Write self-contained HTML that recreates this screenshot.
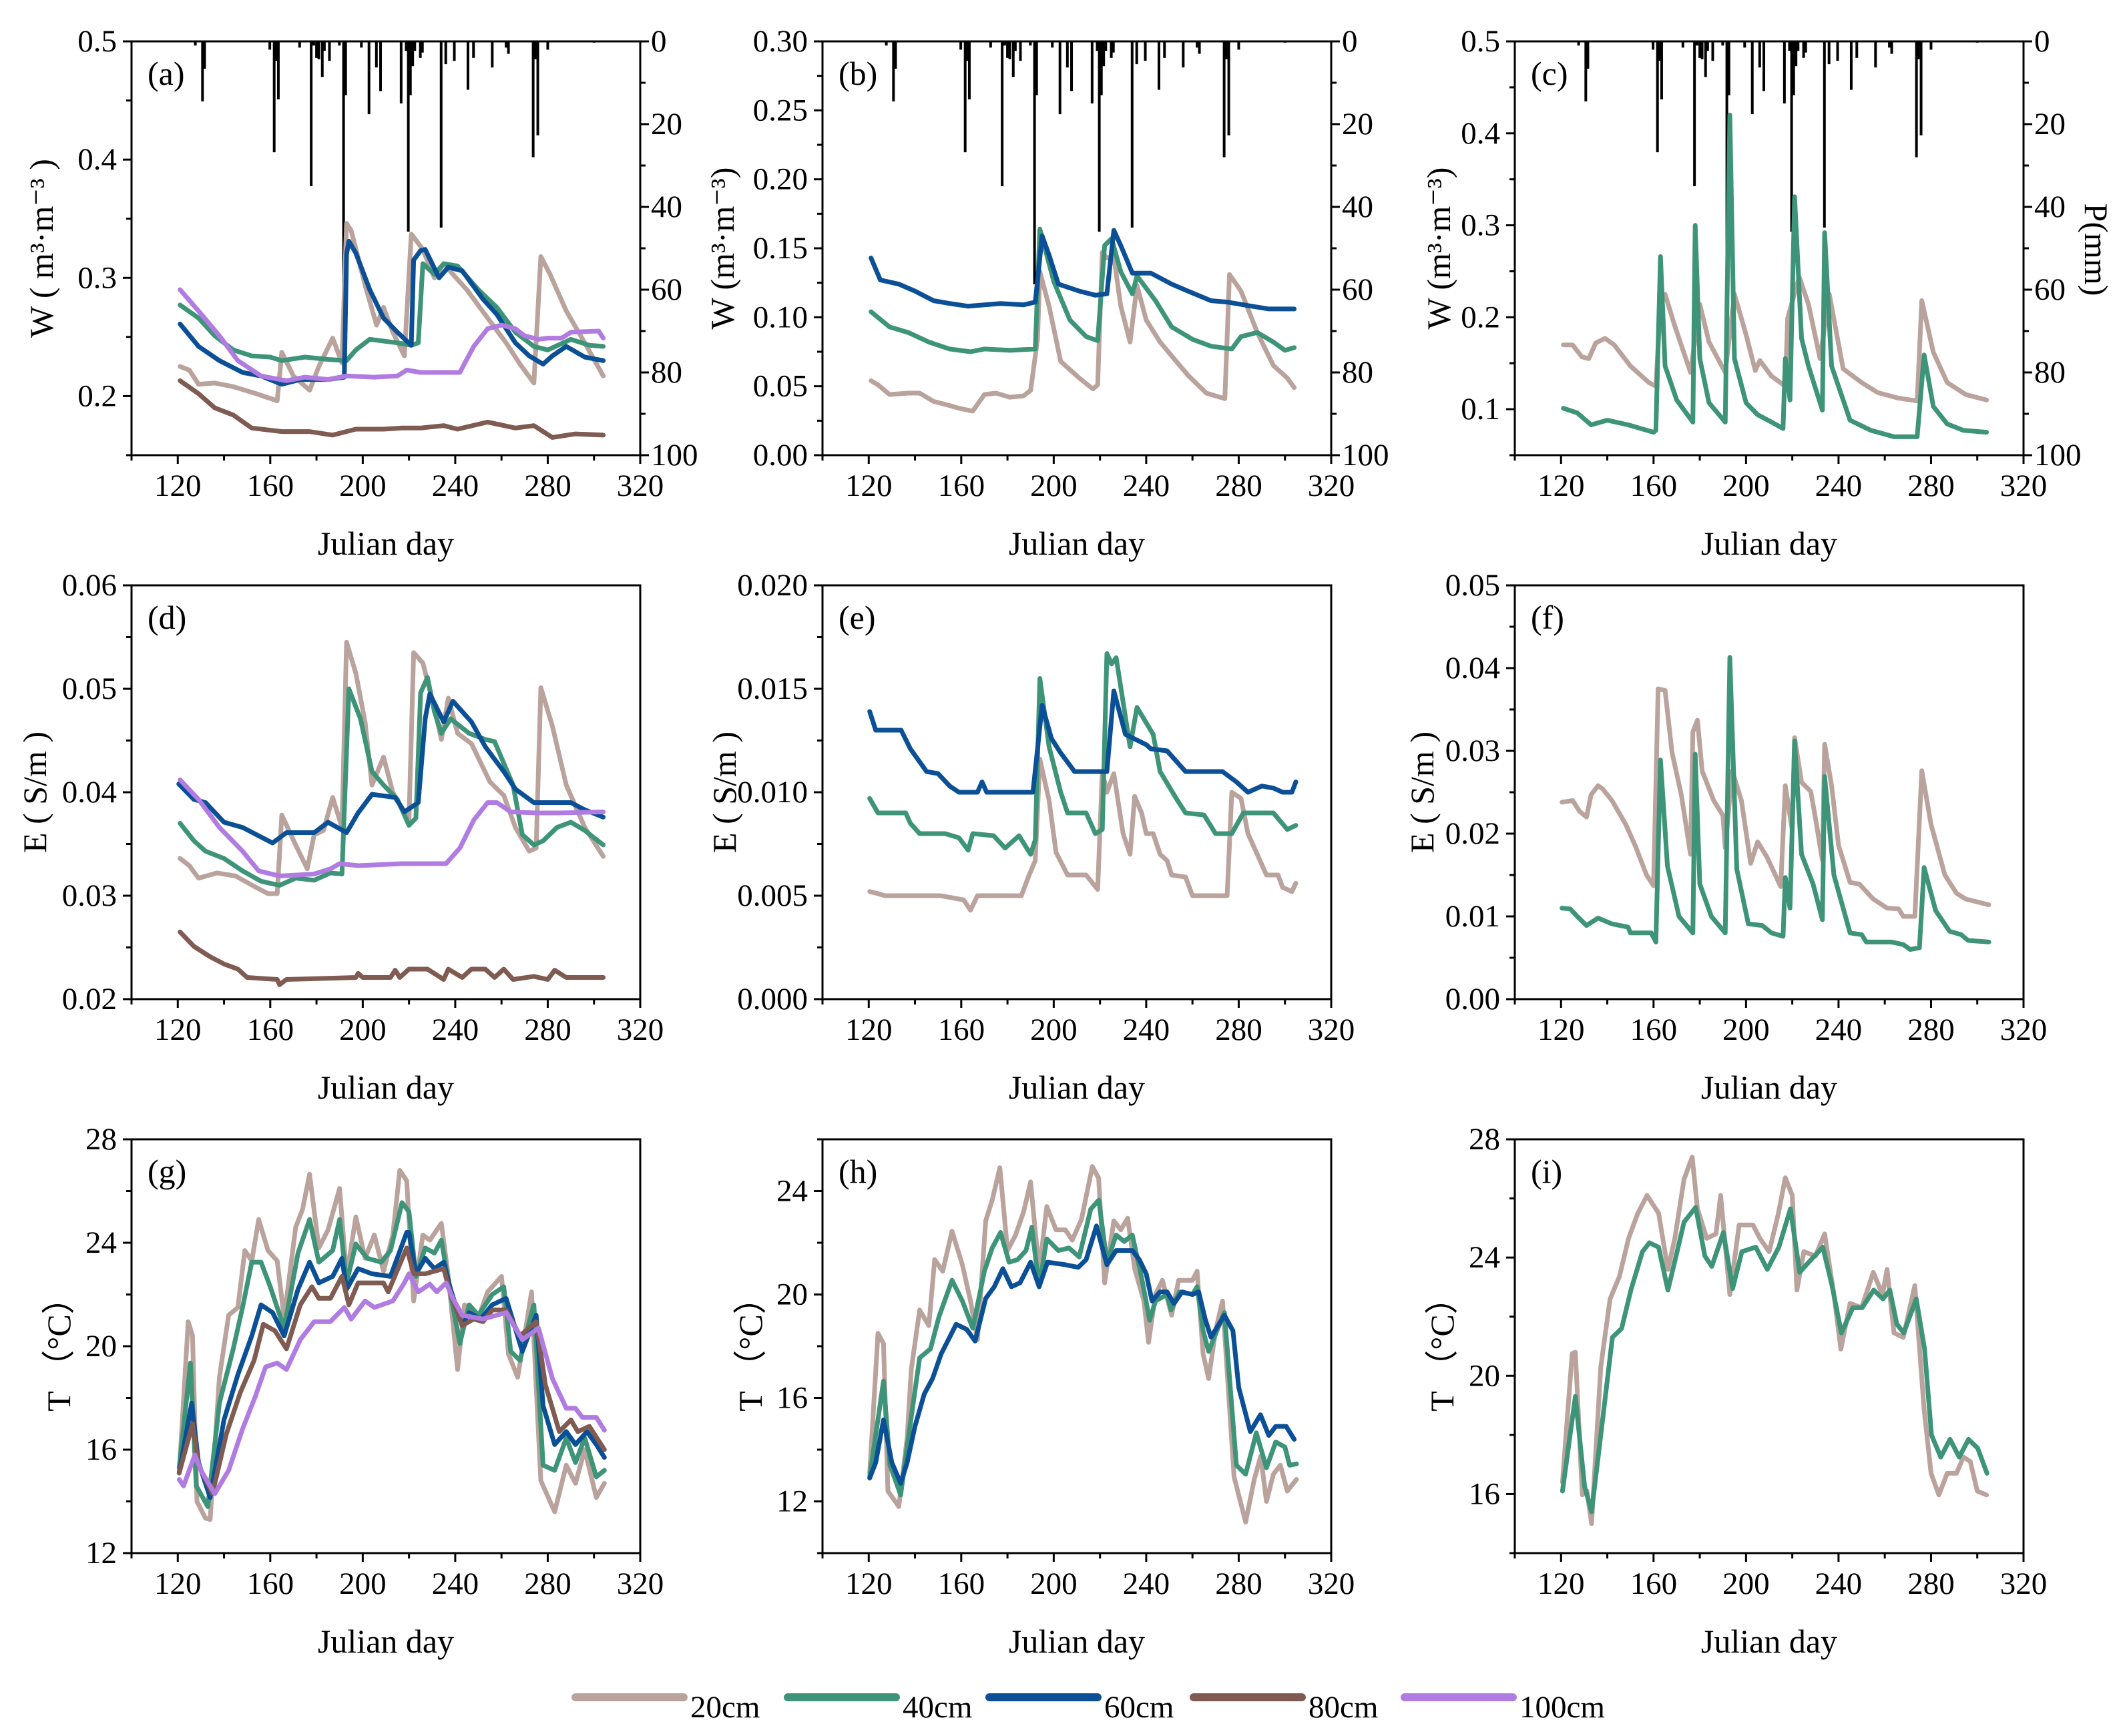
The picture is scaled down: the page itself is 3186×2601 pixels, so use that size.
<!DOCTYPE html>
<html><head><meta charset="utf-8"><style>
html,body{margin:0;padding:0;background:#fff;}
svg{display:block;font-family:"Liberation Serif","DejaVu Serif",serif;}
</style></head><body>
<svg id="chart" xmlns="http://www.w3.org/2000/svg" width="3186" height="2601" viewBox="0 0 3186 2601"></svg>
<script>
// ---------- data ----------
const rainDays=[127.6,130.7,131.6,159.8,161.7,162.6,163.5,172.7,177.7,178.8,180,181,182.5,183.4,185.6,189.9,191.7,192.6,199.4,202.7,205.9,207.7,216.6,218.8,219.7,220.6,221.6,222.5,224.9,225.8,233.9,235.9,239.6,245.5,247.9,256,262,263,273.7,274.6,275.7,280,300];
const rainMm=[1,14.5,6.6,2,26.8,4.7,14,1.5,35,1,4,4.3,8.6,2.3,4.7,1,58.7,13,1.5,17.6,6.3,12,15,2.3,46,13,6,2.3,4,2.7,45,5.5,4.7,11.7,4,6.3,1.5,3,28,4.3,22.7,2,0.3];

const a20=[[121,0.225],[125,0.222],[129,0.210],[136,0.211],[144,0.208],[154,0.202],[163,0.196],[165,0.237],[170,0.217],[177,0.205],[181,0.225],[187,0.249],[191,0.228],[193,0.346],[195,0.34],[201,0.294],[206,0.26],[209,0.275],[213,0.254],[218,0.234],[221,0.337],[226,0.324],[231,0.30],[235,0.312],[239,0.303],[245,0.29],[254,0.266],[262,0.245],[268,0.227],[274,0.211],[277,0.318],[281,0.303],[288,0.272],[296,0.245],[304,0.217]];
const a40=[[121,0.277],[129,0.266],[136,0.251],[144,0.239],[152,0.234],[160,0.233],[165,0.230],[175,0.233],[185,0.231],[193,0.230],[197,0.239],[203,0.248],[215,0.245],[221,0.243],[224,0.245],[226,0.312],[231,0.303],[235,0.312],[241,0.31],[250,0.29],[258,0.275],[266,0.254],[274,0.242],[280,0.239],[290,0.248],[298,0.243],[304,0.242]];
const a60=[[121,0.261],[129,0.242],[138,0.230],[148,0.220],[156,0.217],[165,0.210],[173,0.214],[185,0.214],[192,0.216],[193,0.32],[194,0.331],[197,0.321],[203,0.29],[209,0.266],[215,0.254],[221,0.243],[222,0.315],[225,0.323],[227,0.324],[233,0.30],[237,0.309],[243,0.306],[252,0.282],[258,0.269],[266,0.245],[272,0.234],[278,0.227],[282,0.234],[288,0.242],[296,0.233],[304,0.230]];
const a80=[[121,0.213],[129,0.202],[136,0.190],[144,0.184],[152,0.173],[165,0.170],[177,0.170],[187,0.167],[197,0.172],[209,0.172],[217,0.173],[225,0.173],[235,0.175],[241,0.172],[254,0.178],[266,0.173],[274,0.175],[282,0.165],[292,0.168],[304,0.167]];
const a100=[[121,0.29],[129,0.272],[138,0.251],[146,0.230],[156,0.217],[167,0.213],[175,0.216],[185,0.214],[193,0.217],[205,0.216],[215,0.217],[219,0.222],[225,0.220],[242,0.220],[248,0.242],[254,0.257],[260,0.260],[266,0.257],[270,0.251],[276,0.248],[280,0.249],[286,0.249],[290,0.254],[302,0.255],[304,0.249]];

const b20=[[121,0.054],[124,0.051],[129,0.044],[137,0.045],[142,0.045],[148,0.039],[155,0.036],[159,0.034],[165,0.032],[170,0.044],[175,0.045],[181,0.042],[187,0.043],[190,0.047],[193,0.084],[194,0.133],[198,0.108],[203,0.068],[211,0.056],[217,0.048],[219,0.051],[221,0.147],[223,0.143],[226,0.144],[229,0.108],[233,0.082],[236,0.123],[240,0.098],[246,0.082],[251,0.072],[258,0.058],[266,0.045],[274,0.041],[276,0.131],[281,0.119],[288,0.089],[295,0.065],[301,0.056],[304,0.049]];
const b40=[[121,0.104],[129,0.093],[137,0.089],[146,0.082],[155,0.077],[164,0.075],[170,0.077],[181,0.076],[192,0.077],[194,0.164],[200,0.126],[207,0.098],[214,0.086],[219,0.083],[222,0.152],[225,0.157],[229,0.133],[234,0.117],[236,0.130],[244,0.112],[251,0.093],[260,0.084],[268,0.079],[277,0.077],[281,0.086],[288,0.089],[295,0.082],[300,0.076],[304,0.078]];
const b60=[[121,0.143],[125,0.127],[133,0.124],[140,0.119],[148,0.112],[155,0.110],[163,0.108],[177,0.110],[187,0.109],[192,0.111],[195,0.159],[198,0.145],[202,0.124],[211,0.119],[218,0.116],[223,0.117],[226,0.163],[229,0.152],[234,0.132],[242,0.132],[251,0.124],[258,0.119],[268,0.112],[275,0.111],[282,0.109],[293,0.106],[304,0.106]];

const c20=[[121,0.170],[125,0.170],[129,0.157],[132,0.155],[135,0.172],[139,0.177],[143,0.170],[150,0.147],[158,0.129],[161,0.125],[163,0.214],[165,0.225],[169,0.192],[176,0.140],[180,0.214],[184,0.173],[191,0.140],[195,0.225],[200,0.181],[204,0.142],[206,0.153],[211,0.136],[217,0.125],[218,0.199],[223,0.244],[227,0.214],[232,0.155],[236,0.225],[242,0.144],[250,0.129],[257,0.118],[266,0.112],[274,0.109],[276,0.218],[281,0.162],[287,0.129],[295,0.116],[304,0.110]];
const c40=[[121,0.101],[127,0.096],[133,0.083],[140,0.088],[149,0.083],[160,0.075],[161,0.077],[163,0.266],[165,0.147],[170,0.110],[177,0.086],[178,0.300],[180,0.155],[184,0.107],[191,0.086],[193,0.42],[195,0.155],[200,0.107],[205,0.094],[211,0.086],[216,0.079],[217,0.155],[219,0.110],[221,0.331],[224,0.177],[227,0.147],[233,0.099],[234,0.292],[237,0.147],[245,0.088],[254,0.077],[264,0.070],[274,0.070],[277,0.159],[281,0.103],[287,0.084],[294,0.077],[304,0.075]];

const d20=[[121,0.0336],[125,0.0329],[129,0.0317],[137,0.0322],[145,0.0319],[153,0.0309],[159,0.0302],[163,0.0302],[165,0.0378],[171,0.0349],[176,0.0326],[179,0.0359],[183,0.0363],[187,0.0395],[191,0.0366],[193,0.0545],[197,0.0515],[201,0.0468],[204,0.0407],[209,0.0434],[213,0.0400],[220,0.0373],[222,0.0535],[226,0.0525],[231,0.0481],[234,0.0451],[237,0.0491],[241,0.0457],[247,0.0447],[255,0.041],[261,0.0397],[266,0.0366],[272,0.0343],[275,0.0346],[277,0.0501],[282,0.0464],[288,0.0407],[296,0.0366],[304,0.0338]];
const d40=[[121,0.0370],[127,0.0353],[132,0.0343],[140,0.0336],[148,0.0324],[156,0.0314],[164,0.0310],[171,0.0317],[179,0.0315],[186,0.0322],[191,0.0321],[194,0.0500],[199,0.0471],[204,0.0420],[209,0.0407],[215,0.0393],[220,0.0368],[223,0.0375],[225,0.0496],[228,0.0511],[231,0.0478],[234,0.0457],[238,0.0471],[246,0.0457],[253,0.0451],[257,0.0449],[265,0.0407],[269,0.0359],[274,0.0349],[278,0.0353],[284,0.0366],[290,0.0371],[296,0.0363],[304,0.0349]];
const d60=[[120.4,0.0408],[127,0.0393],[132,0.0390],[140,0.0371],[148,0.0366],[154,0.0359],[161,0.0351],[167,0.0361],[179,0.0361],[185,0.0371],[193,0.0361],[198,0.0380],[204,0.0398],[214,0.0395],[218,0.0381],[224,0.039],[227,0.0471],[229,0.0495],[235,0.0468],[239,0.0488],[247,0.0468],[253,0.0444],[261,0.042],[266,0.0403],[274,0.039],[282,0.039],[290,0.039],[296,0.0383],[304,0.0376]];
const d80=[[121,0.0265],[127,0.0251],[134,0.0241],[140,0.0234],[146,0.0229],[150,0.0221],[163,0.0219],[164,0.0214],[167,0.0219],[197,0.0221],[198,0.0225],[200,0.0221],[212,0.0221],[214,0.0228],[216,0.0221],[220,0.0229],[228,0.0229],[235,0.0219],[237,0.0229],[243,0.0221],[247,0.0229],[253,0.0229],[257,0.0221],[261,0.0229],[265,0.0219],[274,0.0222],[280,0.0219],[283,0.0228],[288,0.0221],[304,0.0221]];
const d100=[[121,0.0412],[129,0.0393],[138,0.0366],[148,0.0343],[155,0.0324],[164,0.0319],[179,0.0321],[186,0.0326],[190,0.0331],[198,0.0329],[217,0.0331],[236,0.0331],[238,0.0336],[242,0.0346],[248,0.0373],[254,0.039],[258,0.039],[264,0.0381],[275,0.0380],[285,0.038],[304,0.0381]];

const e20=[[120.4,0.0052],[124,0.0051],[127,0.0050],[151,0.0050],[161,0.0048],[164,0.0043],[167,0.0050],[186,0.0050],[189,0.0059],[192,0.0067],[194,0.0116],[198,0.0096],[201,0.0071],[206,0.0060],[214,0.0060],[219,0.0053],[221,0.0110],[223,0.0100],[226,0.0109],[230,0.0080],[233,0.0070],[235,0.0098],[238,0.0090],[240,0.0080],[243,0.0080],[246,0.0070],[249,0.0067],[251,0.0060],[257,0.0059],[260,0.0050],[275,0.0050],[277,0.0100],[281,0.0097],[284,0.0080],[288,0.0070],[292,0.0060],[297,0.0060],[299,0.0054],[303,0.0052],[304.7,0.0056]];
const e40=[[120.4,0.0097],[124,0.0090],[136,0.0090],[138,0.0085],[142,0.0080],[153,0.0080],[159,0.0078],[163,0.0072],[165,0.0080],[174,0.0079],[179,0.0073],[185,0.0079],[190,0.0070],[192,0.0077],[194,0.0155],[198,0.0122],[203,0.0100],[206,0.0090],[214,0.0090],[218,0.0080],[221,0.0082],[223,0.0167],[225,0.0162],[227,0.0165],[233,0.0122],[236,0.0141],[243,0.0128],[246,0.0110],[253,0.0097],[257,0.0090],[265,0.0089],[270,0.0080],[277,0.0080],[282,0.0090],[295,0.0090],[301,0.0082],[304.7,0.0084]];
const e60=[[120.4,0.0139],[123,0.0130],[131,0.0130],[134,0.0130],[138,0.0121],[145,0.0110],[150,0.0109],[155,0.0103],[159,0.0100],[167,0.0100],[169,0.0105],[171,0.0100],[191,0.0100],[195,0.0142],[199,0.0126],[203,0.0119],[209,0.0110],[223,0.0110],[226,0.0149],[231,0.0128],[240,0.0123],[242,0.0121],[249,0.0120],[257,0.0110],[266,0.0110],[273,0.0110],[279,0.0105],[284,0.0100],[290,0.0103],[295,0.0102],[299,0.0100],[303,0.0100],[304.7,0.0105]];

const f20=[[120.4,0.0238],[125,0.0240],[128,0.0227],[131,0.0220],[133,0.0247],[136,0.0258],[138,0.0254],[142,0.0240],[148,0.0211],[152,0.0186],[157,0.0150],[160,0.0137],[162,0.0375],[165,0.0373],[168,0.0298],[172,0.0247],[176,0.0175],[177,0.0323],[179,0.0337],[181,0.0276],[186,0.0240],[190,0.0222],[191,0.0183],[194,0.0276],[198,0.0240],[202,0.0164],[205,0.0190],[209,0.0172],[212,0.0154],[215,0.0136],[217,0.0258],[220,0.0204],[221,0.0316],[224,0.0262],[228,0.0251],[230,0.0219],[233,0.0168],[234,0.0308],[237,0.0258],[240,0.0186],[245,0.0141],[249,0.0139],[255,0.0121],[261,0.0110],[266,0.0109],[268,0.0100],[273,0.0100],[276,0.0276],[280,0.0211],[286,0.0150],[291,0.0128],[295,0.0121],[305,0.0114]];
const f40=[[120.4,0.0110],[124,0.0109],[127,0.0100],[131,0.0089],[136,0.0098],[142,0.0091],[149,0.0087],[150,0.0080],[159,0.0080],[161,0.0069],[163,0.0289],[166,0.0161],[171,0.0100],[177,0.0080],[178,0.0296],[180,0.0139],[185,0.0100],[191,0.0080],[193,0.0413],[196,0.0157],[201,0.0091],[207,0.0089],[211,0.0080],[216,0.0076],[217,0.0147],[219,0.0110],[221,0.0312],[224,0.0175],[229,0.0139],[233,0.0096],[234,0.0269],[238,0.0150],[245,0.0080],[250,0.0078],[252,0.0069],[263,0.0069],[268,0.0066],[271,0.0060],[275,0.0062],[277,0.0159],[282,0.0107],[288,0.0082],[293,0.0078],[296,0.0071],[305,0.0069]];

const g20=[[120.6,15.1],[124.5,20.95],[126.4,20.4],[128.3,14.0],[132,13.35],[134,13.3],[138,18.8],[142,21.2],[146,21.5],[149,23.7],[152,23.3],[155,24.9],[159,23.7],[163,23.3],[166,21.1],[171,24.6],[174,25.3],[177,26.65],[181,23.8],[185,24.5],[190,26.1],[193,22.7],[197,25.0],[201,23.4],[205,24.3],[209,22.9],[213,24.3],[216,26.8],[219,26.4],[222,21.75],[226,24.3],[229,24.1],[234,24.75],[237,22.7],[241,19.1],[244,21.6],[250,21.1],[254,22.1],[260,22.7],[263,19.7],[267,18.8],[270,20.4],[273,22.1],[277,14.8],[283,13.6],[288,15.4],[292,14.7],[296,16.0],[301,14.15],[304.5,14.7]];
const g40=[[120.6,15.3],[125.5,19.35],[128,14.6],[133,13.8],[138,17.8],[144,19.9],[148,21.5],[152,23.25],[156,23.25],[160,22.3],[166,20.7],[172,23.6],[177,24.9],[181,23.25],[187,23.7],[190,24.9],[193,22.45],[197,23.95],[202,23.4],[208,23.25],[212,23.7],[217,25.55],[220,25.2],[223,22.7],[227,23.8],[231,23.6],[234,24.1],[238,22.0],[242,20.1],[246,21.6],[250,21.2],[256,22.0],[261,22.3],[264,19.8],[268,19.45],[271,20.6],[274,21.6],[278,15.4],[283,15.2],[288,16.45],[292,15.5],[296,16.45],[301,14.95],[304.5,15.2]];
const g60=[[120.6,15.1],[126,17.8],[129,15.5],[134,14.15],[140,17.15],[146,18.9],[152,20.4],[156,21.6],[161,21.3],[166,20.4],[172,22.2],[177,23.25],[181,22.45],[187,22.7],[191,23.4],[193,22.2],[198,23.0],[204,22.8],[212,22.7],[219,24.4],[220,24.4],[223,22.8],[227,23.4],[231,23.0],[235,23.25],[238,22.2],[243,20.8],[246,21.3],[251,21.05],[256,21.6],[262,21.85],[269,19.8],[275,21.2],[278,17.7],[283,16.2],[288,16.7],[292,16.2],[297,16.7],[301,16.2],[304.5,15.7]];
const g80=[[120.6,15.1],[126.4,17.0],[129,15.4],[135,14.3],[141,16.6],[147,18.2],[153,19.45],[157,20.85],[162,20.6],[167,19.9],[173,21.6],[178,22.3],[181,21.85],[186,21.85],[191,22.7],[194,21.6],[198,22.45],[209,22.45],[211,22.1],[219,23.8],[222,22.8],[227,22.8],[235,23.0],[238,22.0],[243,20.8],[248,21.05],[252,20.95],[256,21.4],[262,21.4],[268,20.4],[275,20.95],[279,18.5],[285,16.7],[290,17.15],[293,16.7],[298,16.9],[304.5,16.0]];
const g100=[[120.6,14.85],[122.5,14.6],[127.4,15.8],[130,15.2],[136,14.3],[142,15.2],[148,16.8],[153.5,18.05],[158,19.2],[163,19.35],[167,19.1],[173,20.25],[179,20.95],[186,20.95],[192,21.5],[195,21.05],[201,21.75],[205,21.5],[213,21.75],[218,22.45],[220,22.8],[224,22.1],[229,22.4],[232,22.1],[236,22.45],[239,21.85],[243,21.2],[252,21.05],[262,21.3],[269,20.25],[276,20.7],[282,18.75],[288,17.6],[292,17.6],[295,17.25],[301,17.25],[304.5,16.75]];

const h20=[[120.4,13.1],[124,18.5],[126.4,18.1],[128.3,12.4],[133,11.8],[136.6,14.45],[138.4,17.1],[142,19.4],[146,18.8],[148.5,21.35],[152,20.9],[156,22.45],[160.5,21.15],[164,19.75],[167,18.25],[170.6,22.85],[173.4,23.65],[176.7,24.9],[180,21.7],[183.5,22.3],[187,23.2],[190,24.35],[193.7,20.9],[197,23.4],[201,22.5],[205,22.5],[208,22.1],[212,22.9],[216.7,24.95],[219.4,24.5],[222,20.45],[226,22.85],[229,22.5],[232,22.95],[235,21.0],[239,19.75],[241,18.15],[244,20.0],[247,20.55],[251,19.2],[254,20.55],[260,20.55],[262,20.9],[264.6,17.7],[267,16.75],[270,18.6],[273,19.75],[278,12.95],[283,11.2],[286.7,12.85],[289.5,13.75],[292,12.0],[295,13.05],[298,13.4],[301,12.4],[305,12.85]];
const h40=[[120.4,12.95],[126.4,16.65],[129.2,13.4],[133.8,12.25],[137.5,14.7],[142,17.55],[146.7,17.9],[150.4,19.15],[156,20.55],[160.5,19.75],[165,18.7],[170,20.9],[173.4,21.8],[177,22.4],[180.7,21.25],[184.4,21.35],[188,21.7],[190.5,22.6],[193.7,20.3],[197,22.15],[202,21.7],[206.6,21.8],[211,21.45],[216,23.3],[219.5,23.65],[223,21.25],[227,22.3],[230.5,22.05],[234,22.3],[238,20.65],[241.5,19.0],[244,19.75],[249,20.0],[250.7,19.4],[254.4,20.1],[260,20.0],[262,20.3],[264.6,18.6],[267,17.8],[271,18.7],[273.8,19.3],[279,13.4],[283,13.05],[287.6,14.65],[292,13.3],[296,14.3],[300,14.1],[302,13.4],[305,13.45]];
const h60=[[120.4,12.9],[123,13.5],[126.4,15.15],[130,13.5],[133.8,12.7],[136.6,13.5],[140,14.9],[144,16.15],[147.6,16.75],[151.3,17.7],[155,18.35],[157.8,18.85],[162.4,18.65],[166,18.2],[170.6,19.85],[174.3,20.3],[178,21.0],[181.7,20.3],[185.4,20.45],[190,21.25],[193.7,20.3],[197.3,21.25],[205,21.15],[210.6,21.05],[214,21.35],[218.5,22.65],[223,21.15],[227,21.7],[234,21.7],[237,21.35],[240,20.8],[242.5,19.75],[246,20.1],[249,20.1],[252,19.65],[255.5,20.1],[260,20.0],[262.7,20.1],[265.5,19.05],[268,18.35],[273.8,19.2],[277.5,18.6],[280,16.4],[285,14.7],[289.4,15.35],[293,14.55],[296,14.9],[300.5,14.9],[304,14.4]];

const i20=[[120.6,16.4],[124.8,20.75],[126.2,20.8],[129.2,15.97],[131.2,16.1],[133.2,15.0],[137.2,20.3],[141.2,22.6],[145.2,23.35],[149.2,24.65],[153.2,25.5],[157.2,26.1],[162.2,25.5],[166.2,23.6],[169.2,24.65],[173.2,26.65],[176.7,27.4],[179,25.65],[183,24.65],[187,24.8],[189,26.1],[193,22.75],[197,25.1],[203,25.1],[206,24.65],[210,24.2],[214,25.5],[217,26.7],[220,26.1],[222,22.9],[225,24.2],[230,24.05],[234,24.8],[238,22.75],[241,20.9],[245,22.45],[250,22.3],[255,23.5],[259,22.75],[261,23.6],[264,21.45],[268,21.3],[273,23.05],[277,18.85],[280,16.7],[283.4,15.97],[287,16.7],[291,16.7],[294,17.25],[297,17.1],[300,16.1],[304,15.97]];
const i40=[[120.6,16.1],[126.2,19.3],[130.2,16.25],[133.2,15.4],[137.2,18.0],[142.2,21.3],[146.2,21.6],[150.2,22.9],[155.2,24.2],[158.2,24.5],[162.2,24.35],[166.2,22.9],[170.2,24.2],[173.2,25.2],[178.2,25.7],[182.2,24.05],[185.2,23.7],[190.2,24.85],[194.2,22.95],[198.2,24.2],[204.2,24.35],[209.2,23.6],[214.2,24.35],[219.2,25.65],[223.2,23.5],[227.2,23.85],[233.2,24.35],[237.2,23.05],[241.2,21.45],[246.2,22.3],[250.2,22.3],[255.2,22.9],[259.2,22.6],[262.2,22.9],[265.2,21.75],[268.2,21.45],[273.6,22.6],[277.2,20.9],[280.2,18.0],[284.2,17.25],[288.2,17.85],[292.2,17.25],[296.2,17.85],[300.2,17.55],[304.2,16.7]];

const xTickDays=[100,120,140,160,180,200,220,240,260,280,300,320];
const xTickLabels=['120','160','200','240','280','320'];
const rightTickMm=[0,10,20,30,40,50,60,70,80,90,100];
const rightTickLabels=['0','20','40','60','80','100'];
const legendLabels=['20cm','40cm','60cm','80cm','100cm'];

// ---------- layout ----------
const COL={'20':'#b9a39c','40':'#3e9478','60':'#0b4f96','80':'#7f5b52','100':'#b17ce1'};
const PW=762, PH=620;
const panels=[
 {id:'a',x:197,y:62,ymin:0.15,ymax:0.5,labels:[0.2,0.3,0.4,0.5],minors:[0.15,0.25,0.35,0.45],dec:1,yt:'W ( m³·m⁻³ )',ylx:62,series:[['20',a20],['40',a40],['60',a60],['80',a80],['100',a100]],rain:true},
 {id:'b',x:1232,y:62,ymin:0,ymax:0.3,labels:[0,0.05,0.1,0.15,0.2,0.25,0.3],minors:[0.025,0.075,0.125,0.175,0.225,0.275],dec:2,yt:'W (m³·m⁻³)',ylx:1082,series:[['20',b20],['40',b40],['60',b60]],rain:true},
 {id:'c',x:2269,y:62,ymin:0.05,ymax:0.5,labels:[0.1,0.2,0.3,0.4,0.5],minors:[0.05,0.15,0.25,0.35,0.45],dec:1,yt:'W (m³·m⁻³)',ylx:2155,series:[['20',c20],['40',c40]],rain:true,plab:true},
 {id:'d',x:197,y:877,ymin:0.02,ymax:0.06,labels:[0.02,0.03,0.04,0.05,0.06],minors:[0.025,0.035,0.045,0.055],dec:2,yt:'E ( S/m )',ylx:52,series:[['20',d20],['40',d40],['60',d60],['80',d80],['100',d100]]},
 {id:'e',x:1232,y:877,ymin:0,ymax:0.02,labels:[0,0.005,0.01,0.015,0.02],minors:[0.0025,0.0075,0.0125,0.0175],dec:3,yt:'E ( S/m )',ylx:1085,series:[['20',e20],['40',e40],['60',e60]]},
 {id:'f',x:2269,y:877,ymin:0,ymax:0.05,labels:[0,0.01,0.02,0.03,0.04,0.05],minors:[0.005,0.015,0.025,0.035,0.045],dec:2,yt:'E ( S/m )',ylx:2130,series:[['20',f20],['40',f40]]},
 {id:'g',x:197,y:1707,ymin:12,ymax:28,labels:[12,16,20,24,28],minors:[14,18,22,26],dec:0,yt:'T （°C）',ylx:88,series:[['20',g20],['40',g40],['60',g60],['80',g80],['100',g100]]},
 {id:'h',x:1232,y:1707,ymin:10,ymax:26,labels:[12,16,20,24],minors:[10,14,18,22,26],dec:0,yt:'T （°C）',ylx:1124,series:[['20',h20],['40',h40],['60',h60]]},
 {id:'i',x:2269,y:1707,ymin:14,ymax:28,labels:[16,20,24,28],minors:[14,18,22,26],dec:0,yt:'T （°C）',ylx:2160,series:[['20',i20],['40',i40]]}
];

const NS='http://www.w3.org/2000/svg';
const svg=document.getElementById('chart');
function mk(tag,attrs,parent){const e=document.createElementNS(NS,tag);for(const k in attrs)e.setAttribute(k,attrs[k]);(parent||svg).appendChild(e);return e;}
function sx(p,d){return p.x+(d-100)/220*PW;}
function sy(p,v){return p.y+PH-(v-p.ymin)/(p.ymax-p.ymin)*PH;}

panels.forEach(p=>{
  const g=mk('g',{});
  
  
  const clipId='clip-'+p.id;
  const cp=mk('clipPath',{id:clipId},g);
  mk('rect',{x:p.x,y:p.y,width:PW,height:PH},cp);
  if(p.rain){
    const rg=mk('g',{'clip-path':'url(#'+clipId+')'},g);
    
    
    rainDays.forEach((d,k)=>{
      const bx=sx(p,d);
      const bh=rainMm[k]/100*PH;
      const r=mk('rect',{x:bx-2,y:p.y,width:4,height:bh,fill:'#000'},rg);
      
      
    });
  }
  const sg=mk('g',{'clip-path':'url(#'+clipId+')'},g);
  p.series.forEach(s=>{
    const pts=s[1].map(q=>sx(p,q[0]).toFixed(1)+','+sy(p,q[1]).toFixed(1)).join(' ');
    const pl=mk('polyline',{points:pts,fill:'none',stroke:COL[s[0]],'stroke-width':7,'stroke-linejoin':'round','stroke-linecap':'round'},sg);
    
    
  });
  const fr=mk('rect',{x:p.x,y:p.y,width:PW,height:PH,fill:'none',stroke:'#000','stroke-width':3},g);
  
  
  const bot=p.y+PH;
  xTickDays.forEach(d=>{
    const major=(d%40===0);
    const t=mk('line',{x1:sx(p,d),x2:sx(p,d),y1:bot,y2:bot+(major?13:8),stroke:'#000','stroke-width':3},g);
    
    
  });
  xTickLabels.forEach(l=>{
    const t=mk('text',{x:sx(p,+l),y:bot+46,'font-size':47,'text-anchor':'middle','dominant-baseline':'central'},g);
    t.textContent=l;
    
    
  });
  const xt=mk('text',{x:p.x+PW/2,y:bot+132,'font-size':50,'text-anchor':'middle','dominant-baseline':'central'},g);
  xt.textContent='Julian day';
  
  
  p.labels.forEach(v=>{
    const yy=sy(p,v);
    const t=mk('line',{x1:p.x-13,x2:p.x,y1:yy,y2:yy,stroke:'#000','stroke-width':3},g);
    
    
    const tl=mk('text',{x:p.x-22,y:yy,'font-size':47,'text-anchor':'end','dominant-baseline':'central'},g);
    tl.textContent=v.toFixed(p.dec);
    
    
  });
  p.minors.forEach(v=>{
    const yy=sy(p,v);
    const t=mk('line',{x1:p.x-8,x2:p.x,y1:yy,y2:yy,stroke:'#000','stroke-width':3},g);
    
    
  });
  const cy=p.y+PH/2;
  const yt=mk('text',{x:p.ylx,y:cy,'font-size':50,'text-anchor':'middle','dominant-baseline':'central',transform:'rotate(-90 '+p.ylx+' '+cy+')'},g);
  yt.textContent=p.yt;
  
  
  const pl=mk('text',{x:p.x+24,y:p.y+48,'font-size':50,'dominant-baseline':'central'},g);
  pl.textContent='('+p.id+')';
  
  
  if(p.rain){
    const rx=p.x+PW;
    rightTickMm.forEach(m=>{
      const yy=p.y+m/100*PH;
      const t=mk('line',{x1:rx,x2:rx+(m%20===0?13:8),y1:yy,y2:yy,stroke:'#000','stroke-width':3},g);
      
      
    });
    rightTickLabels.forEach(l=>{
      const yy=p.y+(+l)/100*PH;
      const t=mk('text',{x:rx+16,y:yy,'font-size':47,'dominant-baseline':'central'},g);
      t.textContent=l;
      
      
    });
    if(p.plab){
      const px=3140, py=p.y+312;
      const t=mk('text',{x:px,y:py,'font-size':50,'text-anchor':'middle','dominant-baseline':'central',transform:'rotate(90 '+px+' '+py+')'},g);
      t.textContent='P(mm)';
      
      
    }
  }
});

const lg=mk('g',{});


const legX=[862,1180,1482,1788,2104];
legendLabels.forEach((l,k)=>{
  const key=l.replace('cm','');
  const ln=mk('line',{x1:legX[k],x2:legX[k]+162,y1:2543,y2:2543,stroke:COL[key],'stroke-width':12,'stroke-linecap':'round'},lg);
  
  
  const t=mk('text',{x:legX[k]+172,y:2558,'font-size':47,'dominant-baseline':'central'},lg);
  t.textContent=l;
  
  
});
</script>
</body></html>
